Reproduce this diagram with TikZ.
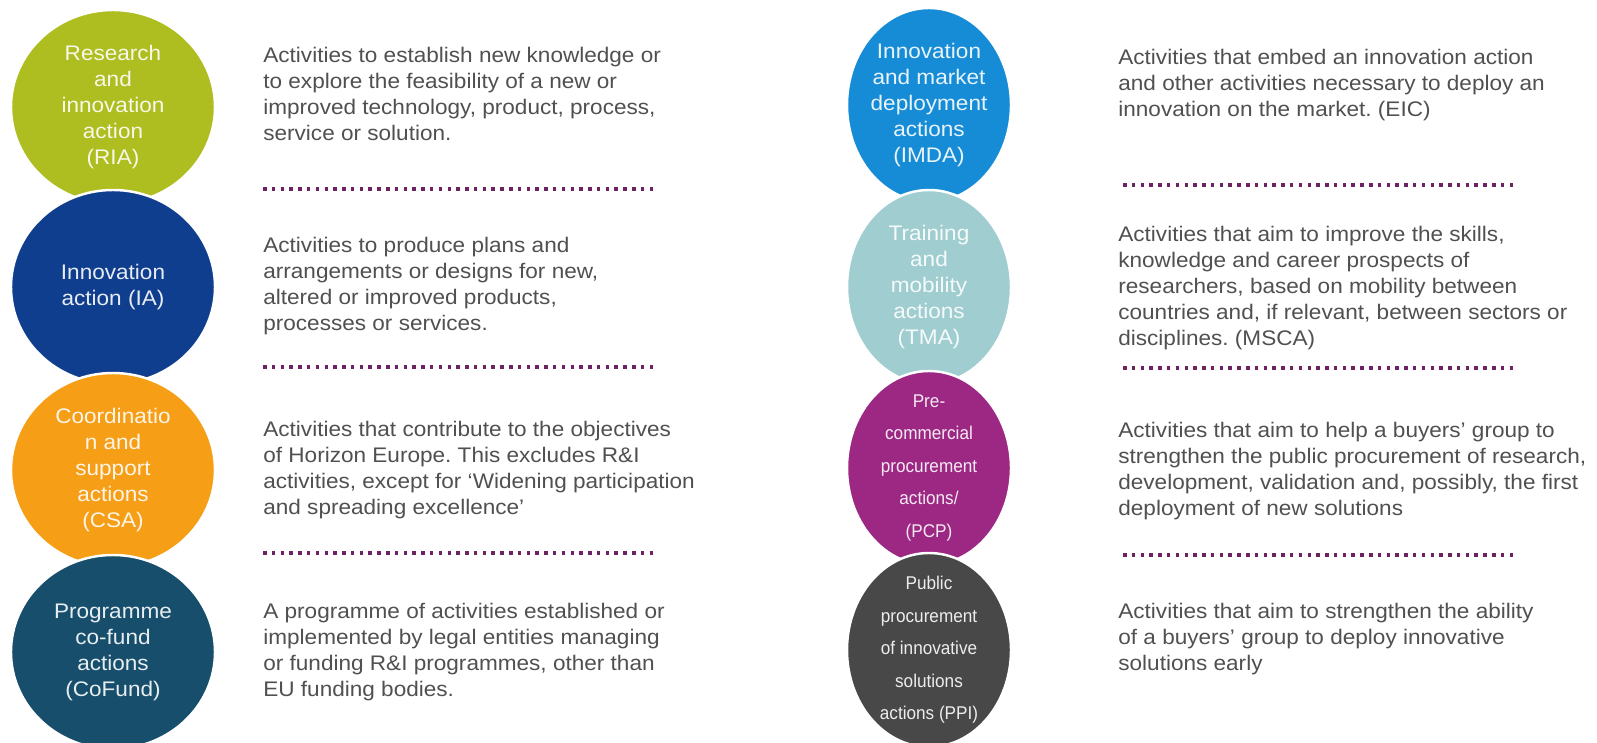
\documentclass[tikz,border=0pt]{standalone}
\usepackage{fontspec}
\setmainfont{Liberation Sans}[FakeStretch=1.07]
\newfontfamily\narrowfont{Liberation Sans}[FakeStretch=0.93]
\usepackage{tikz}
\usetikzlibrary{positioning}
\usetikzlibrary{shapes.geometric}
\usepackage{xcolor}

\definecolor{riagreen}{RGB}{174,189,32}
\definecolor{iablue}{RGB}{16,62,142}
\definecolor{csaorange}{RGB}{245,158,22}
\definecolor{cofundteal}{RGB}{22,78,108}
\definecolor{imdablue}{RGB}{22,140,214}
\definecolor{tmateal}{RGB}{160,205,208}
\definecolor{pcppurple}{RGB}{156,40,132}
\definecolor{ppigrey}{RGB}{72,72,72}
\definecolor{dotpurple}{RGB}{110,34,100}
\definecolor{bodygrey}{RGB}{80,80,80}

\tikzset{
  bubble/.style={ellipse, draw=white, line width=1.4pt, inner sep=0pt},
  widebubble/.style={bubble, minimum width=40.8mm, minimum height=38.8mm},
  slimbubble/.style={bubble, minimum width=32.8mm, minimum height=38.8mm},
  bubbletext/.style={align=center, inner sep=0pt, text=white, text opacity=0.9, font=\fontsize{12}{14.8}\selectfont},
  smallbubbletext/.style={bubbletext, font=\narrowfont\fontsize{10.5}{18.5}\selectfont},
  bodytext/.style={anchor=north west, inner sep=0pt, align=left, text=bodygrey, font=\fontsize{12}{14.8}\selectfont},
  separator/.style={draw=dotpurple, line width=2pt, dash pattern=on 2pt off 3pt}
}

\begin{document}
\frenchspacing
\begin{tikzpicture}[x=0.2mm, y=-0.2mm]
    \useasboundingbox (0, 0) rectangle (1597, 743);
    \fill[white] (0, 0) rectangle (1597, 743);

    % left column
    \node[widebubble, fill=riagreen] (ria) at (113, 107) {};
    \node[widebubble, fill=iablue] (ia) at (113, 287) {};
    \node[widebubble, fill=csaorange] (csa) at (113, 470) {};
    \node[widebubble, fill=cofundteal] (cofund) at (113, 652) {};
    \node[bubbletext] (riatext) at (ria.center) {Research\\and\\innovation\\action\\(RIA)};
    \node[bubbletext] (iatext) at (ia.center) {Innovation\\action (IA)};
    \node[bubbletext] (csatext) at (csa.center) {Coordinatio\\n and\\support\\actions\\(CSA)};
    \node[bubbletext] (cofundtext) at (cofund.center) {Programme\\co-fund\\actions\\(CoFund)};

    % right column
    \node[slimbubble, fill=imdablue] (imda) at (929, 105) {};
    \node[slimbubble, fill=tmateal] (tma) at (929, 287) {};
    \node[slimbubble, fill=pcppurple] (pcp) at (929, 468) {};
    \node[slimbubble, fill=ppigrey] (ppi) at (929, 650) {};
    \node[bubbletext] (imdatext) at (imda.center) {Innovation\\and market\\deployment\\actions\\(IMDA)};
    \node[bubbletext] (tmatext) at (tma.center) {Training\\and\\mobility\\actions\\(TMA)};
    \node[smallbubbletext] (pcptext) at (pcp.center) {Pre-\\commercial\\procurement\\actions/\\(PCP)};
    \node[smallbubbletext] (ppitext) at (ppi.center) {Public\\procurement\\of innovative\\solutions\\actions (PPI)};

    % descriptions
    \node[bodytext] (riadesc) at (263, 47) {Activities to establish new knowledge or\\to explore the feasibility of a new or\\improved technology, product, process,\\service or solution.};
    \node[bodytext] (iadesc) at (263, 237) {Activities to produce plans and\\arrangements or designs for new,\\altered or improved products,\\processes or services.};
    \node[bodytext] (csadesc) at (263, 421) {Activities that contribute to the objectives\\of Horizon Europe. This excludes R\&I\\activities, except for ‘Widening participation\\and spreading excellence’};
    \node[bodytext] (cofunddesc) at (263, 603) {A programme of activities established or\\implemented by legal entities managing\\or funding R\&I programmes, other than\\EU funding bodies.};
    \node[bodytext] (imdadesc) at (1118, 49) {Activities that embed an innovation action\\and other activities necessary to deploy an\\innovation on the market. (EIC)};
    \node[bodytext] (tmadesc) at (1118, 226) {Activities that aim to improve the skills,\\knowledge and career prospects of\\researchers, based on mobility between\\countries and, if relevant, between sectors or\\disciplines. (MSCA)};
    \node[bodytext] (pcpdesc) at (1118, 422) {Activities that aim to help a buyers’ group to\\strengthen the public procurement of research,\\development, validation and, possibly, the first\\deployment of new solutions};
    \node[bodytext] (ppidesc) at (1118, 603) {Activities that aim to strengthen the ability\\of a buyers’ group to deploy innovative\\solutions early};

    % dotted separators
    \foreach \y in {189, 367, 553} {\path[separator] (263, \y) -- (657, \y);}
    \foreach \y in {185, 368, 555} {\path[separator] (1123, \y) -- (1514, \y);}
\end{tikzpicture}
\end{document}
